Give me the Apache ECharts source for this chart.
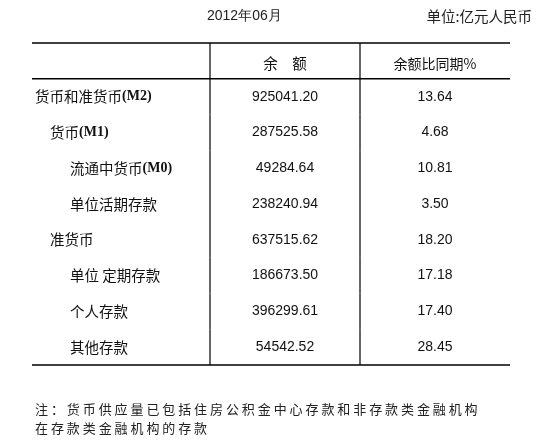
<!DOCTYPE html><html><head><meta charset="utf-8"><script src="https://cdn.jsdelivr.net/npm/echarts@6/dist/echarts.min.js"></script>
<style>body{margin:0;background:#fff}#c{width:550px;height:445px}</style></head><body><div id="c"></div>
<script>
const headers = ['', '余　额', '余额比同期%'];
const items = ['货币和准货币(M2)', '货币(M1)', '流通中货币(M0)', '单位活期存款', '准货币', '单位 定期存款', '个人存款', '其他存款'];
const levels = [0, 1, 2, 2, 1, 2, 2, 2];
const balances = ['925041.20', '287525.58', '49284.64', '238240.94', '637515.62', '186673.50', '396299.61', '54542.52'];
const growth = ['13.64', '4.68', '10.81', '3.50', '18.20', '17.18', '17.40', '28.45'];
const noteLines = ['注：货币供应量已包括住房公积金中心存款和非存款类金融机构', '在存款类金融机构的存款'];
const colEdges = [0, 178, 328, 478];
const rows = ['header'].concat(items);
const chart = echarts.init(document.getElementById('c'));
const cjk = '"Noto Sans CJK SC", sans-serif';
const num = '"Liberation Sans", Arial, sans-serif';
function splitLabel(s){const m=s.match(/^(.*?)(\(M\d\)|)$/);return m;}
chart.setOption({
  animation:false,
  grid:{left:32,right:40,top:43,bottom:80},
  xAxis:{type:'value',min:0,max:478,show:false},
  yAxis:{type:'category',data:rows,inverse:true,show:false},
  graphic:[
    {type:'text',left:207,top:9,style:{text:'2012年06月',font:'14px '+num,fill:'#222'}},
    {type:'text',right:18,top:9,style:{text:'单位:亿元人民币',font:'14.5px '+cjk,fill:'#222'}},
    {type:'text',left:35,top:400,style:{text:noteLines.map(l=>l.split('').join(' ')).join('\n'),font:'13px '+cjk,fill:'#222',lineHeight:19}}
  ],
  series:[{
    type:'custom',
    data:rows.map((r,i)=>[i]),
    renderItem:function(params,api){
      const i=api.value(0);
      const band=api.size([0,1])[1];
      const yc=api.coord([0,i])[1];
      const top=yc-band/2, bot=yc+band/2;
      const x=e=>api.coord([colEdges[e],i])[0];
      const ch=[];
      const line=(x1,y1,x2,y2,w)=>ch.push({type:'line',shape:{x1,y1,x2,y2},style:{stroke:'#000',lineWidth:w}});
      line(x(1),top,x(1),bot,1.2); line(x(2),top,x(2),bot,1.2);
      if(i===0){line(x(0),top,x(3),top,1.5); line(x(0),bot,x(3),bot,1.5);}
      if(i===rows.length-1) line(x(0),bot,x(3),bot,1.5);
      const yt=yc+(i===0?3:0);
      if(i===0){
        ch.push({type:'text',style:{text:headers[1],x:(x(1)+x(2))/2,y:yt,align:'center',verticalAlign:'middle',font:'14.5px '+cjk,fill:'#111'}});
        ch.push({type:'text',style:{text:headers[2],x:(x(2)+x(3))/2,y:yt,align:'center',verticalAlign:'middle',font:'14px '+cjk,fill:'#111'}});
      } else {
        const k=i-1;
        const m=splitLabel(items[k]);
        const lx=x(0)+3+[0,15,35][levels[k]];
        const rich={a:{font:'14.5px '+cjk,fill:'#111'},b:{font:'bold 14px "Liberation Serif", serif',fill:'#111'}};
        ch.push({type:'text',style:{text:'{a|'+m[1]+'}'+(m[2]?'{b|'+m[2]+'}':''),rich,x:lx,y:yc,align:'left',verticalAlign:'middle'}});
        ch.push({type:'text',style:{text:balances[k],x:(x(1)+x(2))/2,y:yc,align:'center',verticalAlign:'middle',font:'14px '+num,fill:'#111'}});
        ch.push({type:'text',style:{text:growth[k],x:(x(2)+x(3))/2,y:yc,align:'center',verticalAlign:'middle',font:'14px '+num,fill:'#111'}});
      }
      return {type:'group',children:ch};
    }
  }]
});
</script></body></html>
